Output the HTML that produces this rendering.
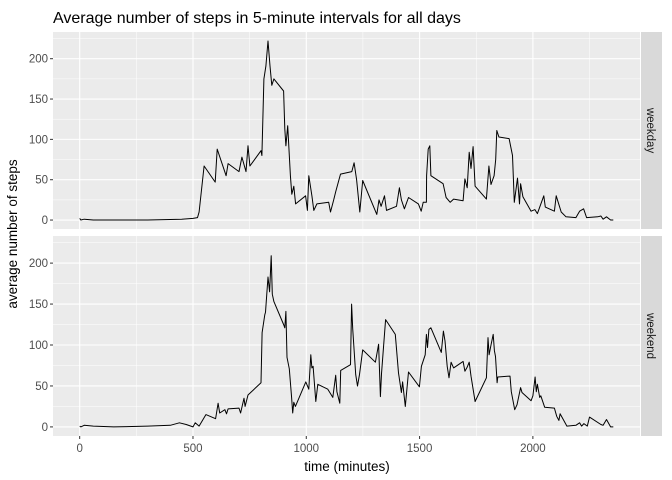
<!DOCTYPE html>
<html><head><meta charset="utf-8"><style>
body{margin:0;background:#fff;}
svg{display:block;font-family:"Liberation Sans",Arial,sans-serif;}
</style></head><body>
<svg id="chart" width="672" height="480" viewBox="0 0 672 480" xmlns="http://www.w3.org/2000/svg">
<text x="53" y="23" font-size="16" fill="#000">Average number of steps in 5-minute intervals for all days</text>
<text transform="translate(17,234) rotate(-90)" text-anchor="middle" font-size="13.5" fill="#000">average number of steps</text>
<text x="347" y="471" text-anchor="middle" font-size="13.5" fill="#000">time (minutes)</text>
<g id="plot"></g>
</svg>
<script>
const xTicks=[0,500,1000,1500,2000];
const yTicks=[0,50,100,150,200];
const panelNames=["weekday","weekend"];
const weekdayX=[0,5,20,60,150,300,450,500,520,527,549,598,607,646,655,703,716,734,743,751,800,804,813,822,831,840,848,857,900,905,910,918,930,936,945,953,997,1005,1011,1025,1033,1047,1099,1107,1121,1130,1151,1201,1211,1222,1236,1249,1311,1321,1330,1345,1354,1398,1411,1420,1433,1451,1495,1507,1516,1530,1531,1538,1545,1550,1604,1617,1635,1650,1692,1700,1710,1719,1727,1736,1745,1795,1806,1815,1829,1836,1841,1850,1895,1910,1918,1932,1941,1946,1956,1992,2009,2020,2048,2055,2095,2103,2125,2146,2190,2206,2224,2237,2286,2300,2310,2325,2343,2355];
const weekdayY=[2,0,1,0,0,0,1,2,3,10,67,47,88,55,70,60,78,60,92,67,86,80,175,191,222,191,167,175,160,113,92,117,55,32,42,20,30,12,55,30,12,20,22,10,25,35,57,60,71,50,10,49,7,25,17,30,12,17,40,25,14,28,20,11,22,22,55,88,92,55,45,28,22,26,24,51,40,84,64,91,42,26,67,44,55,75,111,103,101,80,22,52,20,45,29,11,13,8,30,16,11,30,10,4,3,11,14,3,4,5,1,4,0,0];
const weekendX=[0,5,20,60,150,300,400,440,470,500,510,527,557,600,611,618,641,648,655,703,710,725,730,743,800,805,817,820,831,838,845,850,857,900,905,910,915,925,935,940,945,952,998,1011,1020,1025,1030,1042,1051,1095,1117,1130,1135,1148,1152,1195,1200,1205,1218,1226,1235,1249,1305,1319,1327,1332,1350,1393,1407,1420,1425,1437,1451,1499,1508,1525,1530,1535,1541,1550,1596,1605,1612,1622,1630,1639,1650,1692,1700,1710,1719,1727,1745,1795,1802,1807,1815,1825,1830,1835,1842,1845,1899,1905,1920,1930,1946,1952,1992,2000,2010,2015,2020,2030,2035,2052,2095,2105,2115,2120,2150,2190,2206,2215,2225,2240,2250,2300,2310,2325,2343,2355];
const weekendY=[1,0,2,1,0,1,2,5,3,0,5,1,15,10,29,17,21,16,22,23,17,35,25,39,54,115,137,140,183,165,209,162,153,125,121,141,85,71,36,17,30,25,55,46,88,72,74,31,52,46,36,63,43,29,69,76,150,120,64,50,64,94,79,101,37,65,131,113,66,42,55,25,67,49,74,88,113,97,119,121,91,117,105,74,60,79,72,80,68,73,79,62,31,60,109,88,100,113,93,86,54,61,62,43,21,27,48,42,32,38,61,43,52,36,38,24,23,13,8,16,1,2,5,1,4,1,12,3,2,9,0,0];
const NS="http://www.w3.org/2000/svg";
const PL=53,PR=640,SR=662;
const panels=[{top:32,bot:229},{top:236,bot:436}];
const yMin=-11.1,yMax=233.1;
const xMin=-117.75,xMax=2472.75;
function sx(v){return PL+(v-xMin)/(xMax-xMin)*(PR-PL);}
function mk(tag,attrs,parent){const e=document.createElementNS(NS,tag);for(const k in attrs)e.setAttribute(k,attrs[k]);parent.appendChild(e);return e;}
const g=document.getElementById('plot');
const series=[[weekdayX,weekdayY],[weekendX,weekendY]];
panels.forEach((p,pi)=>{
  const sy=v=>p.bot-(v-yMin)/(yMax-yMin)*(p.bot-p.top);
  const bg=mk('rect',{x:PL,y:p.top,width:PR-PL,height:p.bot-p.top,fill:'#EBEBEB'},g);
  
  
  for(let i=0;i<xTicks.length;i++){
    const m=mk('line',{x1:sx(xTicks[i]+250),x2:sx(xTicks[i]+250),y1:p.top,y2:p.bot,stroke:'#fff','stroke-width':0.5},g);
    
    
  }
  for(let i=0;i<yTicks.length;i++){
    const m=mk('line',{x1:PL,x2:PR,y1:sy(yTicks[i]+25),y2:sy(yTicks[i]+25),stroke:'#fff','stroke-width':0.5},g);
    
    
  }
  xTicks.forEach(t=>{
    const l=mk('line',{x1:sx(t),x2:sx(t),y1:p.top,y2:p.bot,stroke:'#fff','stroke-width':1.1},g);
    
    
  });
  yTicks.forEach(t=>{
    const l=mk('line',{x1:PL,x2:PR,y1:sy(t),y2:sy(t),stroke:'#fff','stroke-width':1.1},g);
    
    
    const tk=mk('line',{x1:PL-3,x2:PL,y1:sy(t),y2:sy(t),stroke:'#333','stroke-width':1},g);
    
    
    const tx=mk('text',{x:PL-5,y:sy(t)+4,'text-anchor':'end','font-size':11.5,fill:'#4D4D4D'},g);
    tx.textContent=t;
    
    
  });
  const [xs,ys]=series[pi];
  const d=xs.map((x,i)=>(i?'L':'M')+sx(x).toFixed(1)+','+sy(ys[i]).toFixed(1)).join('');
  const path=mk('path',{d:d,fill:'none',stroke:'#000','stroke-width':1,'stroke-linejoin':'round'},g);
  
  
  const st=mk('rect',{x:PR+1,y:p.top,width:SR-PR-1,height:p.bot-p.top,fill:'#D9D9D9'},g);
  
  
  const sl=mk('text',{transform:'translate('+(PR+7)+','+((p.top+p.bot)/2)+') rotate(90)','text-anchor':'middle','font-size':11.5,fill:'#1A1A1A'},g);
  sl.textContent=panelNames[pi];
  
  
});
xTicks.forEach(t=>{
  const tk=mk('line',{x1:sx(t),x2:sx(t),y1:436,y2:439,stroke:'#333','stroke-width':1},g);
  
  
  const tx=mk('text',{x:sx(t),y:452,'text-anchor':'middle','font-size':11.5,fill:'#4D4D4D'},g);
  tx.textContent=t;
  
  
});
</script>
</body></html>
